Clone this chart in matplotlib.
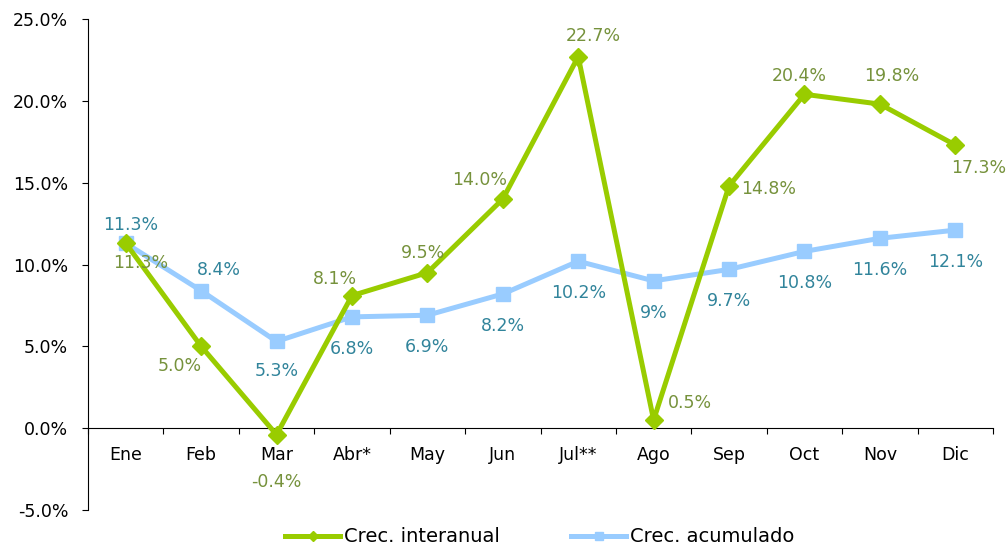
#!/usr/bin/env python

import matplotlib
matplotlib.use('Agg')

import matplotlib.pyplot as plt
import numpy             as np


# ------------------------------------------------------------------------------
# data
#
months      = ['Ene', 'Feb', 'Mar', 'Abr*', 'May', 'Jun',
               'Jul**', 'Ago', 'Sep', 'Oct', 'Nov', 'Dic']
interanual  = [11.3, 5.0, -0.4, 8.1, 9.5, 14.0, 22.7, 0.5, 14.8, 20.4, 19.8, 17.3]
acumulado   = [11.3, 8.4,  5.3, 6.8, 6.9,  8.2, 10.2, 9.0,  9.7, 10.8, 11.6, 12.1]
lbl_inter   = ['11.3%', '5.0%', '-0.4%', '8.1%', '9.5%', '14.0%',
               '22.7%', '0.5%', '14.8%', '20.4%', '19.8%', '17.3%']
lbl_acum    = ['11.3%', '8.4%', '5.3%', '6.8%', '6.9%', '8.2%',
               '10.2%', '9%', '9.7%', '10.8%', '11.6%', '12.1%']

# label offsets in pixels (dx right, dy down), as placed in the original
off_inter   = [(15, 20), (-21, 20), (0, 47), (-17, -17), (-4, -20), (-23, -19),
               (15, -21), (36, -17), (40, 3), (-5, -18), (12, -28), (23, 23)]
off_acum    = [(5, -18), (18, -21), (0, 30), (0, 32), (0, 32), (0, 32),
               (0, 32), (0, 32), (0, 32), (0, 32), (0, 32), (0, 32)]

GREEN      = '#99CC00'
BLUE       = '#99CCFF'
GREEN_TXT  = '#76923C'
BLUE_TXT   = '#31849B'

plt.rcParams['font.family'] = ['DejaVu Sans']
plt.rcParams['font.size']   = 12.5


# ------------------------------------------------------------------------------
#
fig = plt.figure(figsize=(10.07, 5.48), dpi=100)
ax  = fig.add_axes([88 / 1007, 1 - 510 / 548, (993 - 88) / 1007, (510 - 19) / 548])

x = np.arange(len(months))

ax.plot(x, interanual, color=GREEN, lw=3.6, marker='D', ms=9.5,
        mec=GREEN, mfc=GREEN, label='Crec. interanual', zorder=3)
ax.plot(x, acumulado, color=BLUE, lw=3.6, marker='s', ms=10,
        mec=BLUE, mfc=BLUE, label='Crec. acumulado', zorder=2)

for i in range(len(months)):
    dx, dy = off_inter[i]
    ax.annotate(lbl_inter[i], (x[i], interanual[i]),
                xytext=(dx * 0.72, -dy * 0.72), textcoords='offset points',
                ha='center', va='center', color=GREEN_TXT)
    dx, dy = off_acum[i]
    ax.annotate(lbl_acum[i], (x[i], acumulado[i]),
                xytext=(dx * 0.72, -dy * 0.72), textcoords='offset points',
                ha='center', va='center', color=BLUE_TXT)

ax.set_xlim(-0.5, len(months) - 0.5)
ax.set_ylim(-5, 25)

# y axis
ax.set_yticks(np.arange(-5, 26, 5))
ax.set_yticklabels(['%.1f%%' % v for v in np.arange(-5, 26, 5)])
ax.tick_params(axis='y', direction='out', length=4.3, width=0.8, pad=10)

# x axis sits on the zero line, ticks between categories
ax.spines['bottom'].set_position(('data', 0))
ax.spines['top'].set_visible(False)
ax.spines['right'].set_visible(False)
for s in ['left', 'bottom']:
    ax.spines[s].set_linewidth(0.8)

ax.set_xticks(np.arange(-0.5, len(months), 1))
ax.set_xticklabels([])
ax.set_xticks(x, minor=True)
ax.set_xticklabels(months, minor=True)
ax.tick_params(axis='x', which='major', direction='out', length=4.3, width=0.8)
ax.tick_params(axis='x', which='minor', length=0, pad=13)

fig.legend(loc='center', bbox_to_anchor=(540 / 1007, 1 - 537 / 548), ncol=2,
           frameon=False, handlelength=2.83, handletextpad=0.2,
           columnspacing=3.65, markerscale=0.55, fontsize=14)

fig.savefig('out.png', dpi=100)
